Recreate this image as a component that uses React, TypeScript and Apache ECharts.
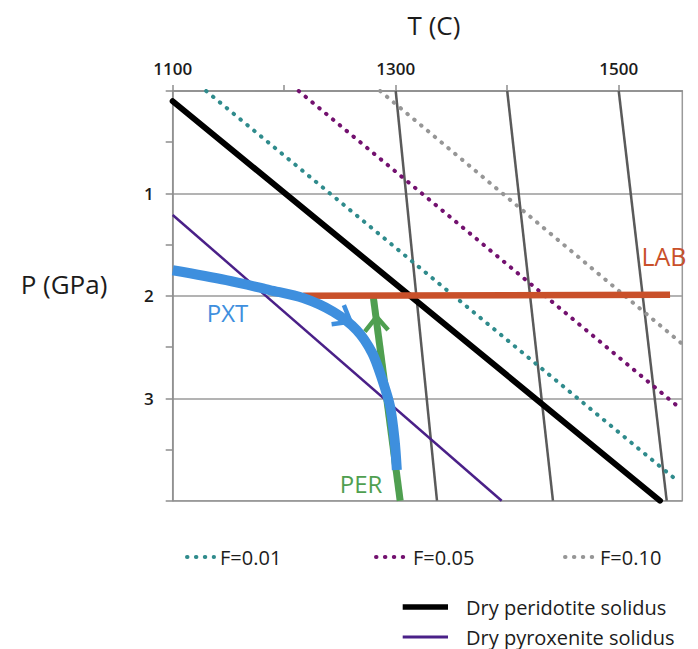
import React, { useEffect, useRef } from "react";
import * as echarts from "echarts";

// ---- data (T in °C, P in GPa) ----
const xTickLabels = [1100, 1300, 1500];
const yTickLabels = [1, 2, 3];

const adiabat1300 = [[1300, 0], [1337, 4]];
const adiabat1400 = [[1400, 0], [1441, 4]];
const adiabat1500 = [[1500, 0], [1543, 4]];

const meltF001 = [[1130, 0], [1552, 3.8]];
const meltF005 = [[1213, 0], [1552, 3.07]];
const meltF010 = [[1286, 0], [1557, 2.47]];

const peridotiteSolidus = [[1100, 0.1], [1537, 4]];
const pyroxeniteSolidus = [[1100, 1.21], [1395, 4]];

const labLine = [[1217, 2.0], [1546, 1.99]];

const pxtPath = [
  [1100, 1.75], [1148, 1.846], [1187, 1.943], [1217, 2.021], [1244, 2.155],
  [1265, 2.334], [1279, 2.559], [1288, 2.822], [1295, 3.083], [1299, 3.408], [1301, 3.7],
];
const pxtArrow = [[1253.5, 2.09], [1259.5, 2.253], [1242.5, 2.278]];

const perPath = [[1304, 4], [1280, 2.02]];
const perArrow = [[1272.3, 2.35], [1282.8, 2.204], [1293.2, 2.334]];

const legendDotted = ["F=0.01", "F=0.05", "F=0.10"];
const legendSolid = ["Dry peridotite solidus", "Dry pyroxenite solidus"];

// ---- styles ----
const FONT = "'Open Sans', 'Noto Sans', sans-serif";
const C = {
  teal: "#2f8b8c",
  magenta: "#73116f",
  lightGray: "#969696",
  adiabat: "#5a5a5a",
  black: "#000000",
  pyx: "#4a2088",
  lab: "#c9502a",
  blue: "#3e8fde",
  green: "#4f9f50",
  axis: "#8e8e8e",
  text: "#1c1c1c",
};

const dotted = (color: string) => ({
  color,
  width: 4,
  type: [0.5, 8.4],
  cap: "round" as const,
});

export default function App() {
  const ref = useRef<HTMLDivElement>(null);
  useEffect(() => {
    if (!ref.current) return;
    const chart = echarts.init(ref.current, null, { renderer: "svg" });

    const line = (name: string, data: number[][], lineStyle: any, extra: any = {}) => ({
      type: "line",
      name,
      data,
      symbol: "none",
      silent: true,
      lineStyle,
      ...extra,
    });

    chart.setOption({
      animation: false,
      backgroundColor: "#ffffff",
      textStyle: { fontFamily: FONT },
      grid: {
        left: 172.7,
        top: 91,
        right: 15.7,
        bottom: 148.3,
        show: true,
        borderColor: "#9a9a9a",
        borderWidth: 1.5,
        backgroundColor: "transparent",
        outerBoundsMode: "none",
        containLabel: false,
      },
      xAxis: {
        type: "value",
        position: "top",
        min: 1100,
        max: 1557,
        interval: 100,
        axisLine: { show: true, lineStyle: { color: C.axis, width: 1.5 } },
        axisTick: { show: true, length: 6, lineStyle: { color: C.axis, width: 1.5 } },
        axisLabel: {
          formatter: (v: number) => (xTickLabels.includes(v) ? String(v) : ""),
          margin: 14,
          fontSize: 17,
          fontWeight: 600,
          color: C.text,
          fontFamily: FONT,
          showMaxLabel: false,
        },
        splitLine: { show: false },
      },
      yAxis: {
        type: "value",
        inverse: true,
        min: 0,
        max: 4,
        interval: 1,
        axisLine: { show: true, lineStyle: { color: C.axis, width: 1.5 } },
        axisTick: { show: true, length: 7, lineStyle: { color: C.axis, width: 1.5 } },
        minorTick: { show: true, splitNumber: 2, length: 7, lineStyle: { color: C.axis, width: 1.5 } },
        minorSplitLine: { show: false },
        axisLabel: {
          formatter: (v: number) => (yTickLabels.includes(v) ? String(v) : ""),
          margin: 19,
          fontSize: 17,
          fontWeight: 600,
          color: C.text,
          fontFamily: FONT,
        },
        splitLine: { show: true, lineStyle: { color: "#9a9a9a", width: 1.5 } },
      },
      series: [
        line("adiabat 1300", adiabat1300, { color: C.adiabat, width: 2.5 }),
        line("adiabat 1400", adiabat1400, { color: C.adiabat, width: 2.5 }),
        line("adiabat 1500", adiabat1500, { color: C.adiabat, width: 2.5 }),
        line("F=0.01", meltF001, dotted(C.teal)),
        line("F=0.05", meltF005, dotted(C.magenta)),
        line("F=0.10", meltF010, dotted(C.lightGray)),
        line("Dry peridotite solidus", peridotiteSolidus, { color: C.black, width: 6, cap: "round" }),
        line("Dry pyroxenite solidus", pyroxeniteSolidus, { color: C.pyx, width: 2.5 }),
        line("PER", perPath, { color: C.green, width: 7, cap: "butt" }),
        line("PER arrow", perArrow, { color: C.green, width: 4.5, cap: "butt", join: "miter" }),
        line("LAB", labLine, { color: C.lab, width: 6.5, cap: "butt" }),
        line("PXT", pxtPath, { color: C.blue, width: 10, cap: "butt" }, { smooth: 0.3 }),
        line("PXT arrow", pxtArrow, { color: C.blue, width: 4.5, cap: "butt", join: "miter" }),
      ],
      graphic: [
        { type: "text", x: 434, y: 25, style: { text: "T (C)", fontSize: 26, fontFamily: FONT, fill: C.text, align: "center", verticalAlign: "middle" } },
        { type: "text", x: 64, y: 284, style: { text: "P (GPa)", fontSize: 26, fontFamily: FONT, fill: C.text, align: "center", verticalAlign: "middle" } },
        { type: "text", x: 664, y: 256, style: { text: "LAB", fontSize: 25, fontFamily: FONT, fill: C.lab, align: "center", verticalAlign: "middle" } },
        { type: "text", x: 227.5, y: 312.5, style: { text: "PXT", fontSize: 24, fontFamily: FONT, fill: C.blue, align: "center", verticalAlign: "middle" } },
        { type: "text", x: 361, y: 483, style: { text: "PER", fontSize: 24, fontFamily: FONT, fill: C.green, align: "center", verticalAlign: "middle" } },
        // legend row 1 (dotted)
        ...[
          { x1: 187, x2: 214, tx: 220, color: C.teal, label: legendDotted[0] },
          { x1: 376, x2: 405, tx: 413, color: C.magenta, label: legendDotted[1] },
          { x1: 565, x2: 593, tx: 600, color: C.lightGray, label: legendDotted[2] },
        ].flatMap((d) => [
          { type: "line", shape: { x1: d.x1, y1: 557, x2: d.x2, y2: 557 }, style: { stroke: d.color, lineWidth: 4, lineDash: [0.5, 8.4], lineCap: "round" } },
          { type: "text", x: d.tx, y: 557, style: { text: d.label, fontSize: 20, fontFamily: FONT, fill: C.text, align: "left", verticalAlign: "middle" } },
        ]),
        // legend rows 2-3 (solid)
        { type: "line", shape: { x1: 402.7, y1: 607, x2: 448, y2: 607 }, style: { stroke: C.black, lineWidth: 5.5 } },
        { type: "text", x: 466, y: 607, style: { text: legendSolid[0], fontSize: 20, fontFamily: FONT, fill: C.text, align: "left", verticalAlign: "middle" } },
        { type: "line", shape: { x1: 402.7, y1: 637, x2: 448, y2: 637 }, style: { stroke: C.pyx, lineWidth: 3 } },
        { type: "text", x: 466, y: 637, style: { text: legendSolid[1], fontSize: 20, fontFamily: FONT, fill: C.text, align: "left", verticalAlign: "middle" } },
      ],
    });
    return () => chart.dispose();
  }, []);

  return (
    <div
      ref={ref}
      style={{ position: "fixed", left: 0, top: 0, width: 698, height: 649, background: "#fff" }}
    />
  );
}
